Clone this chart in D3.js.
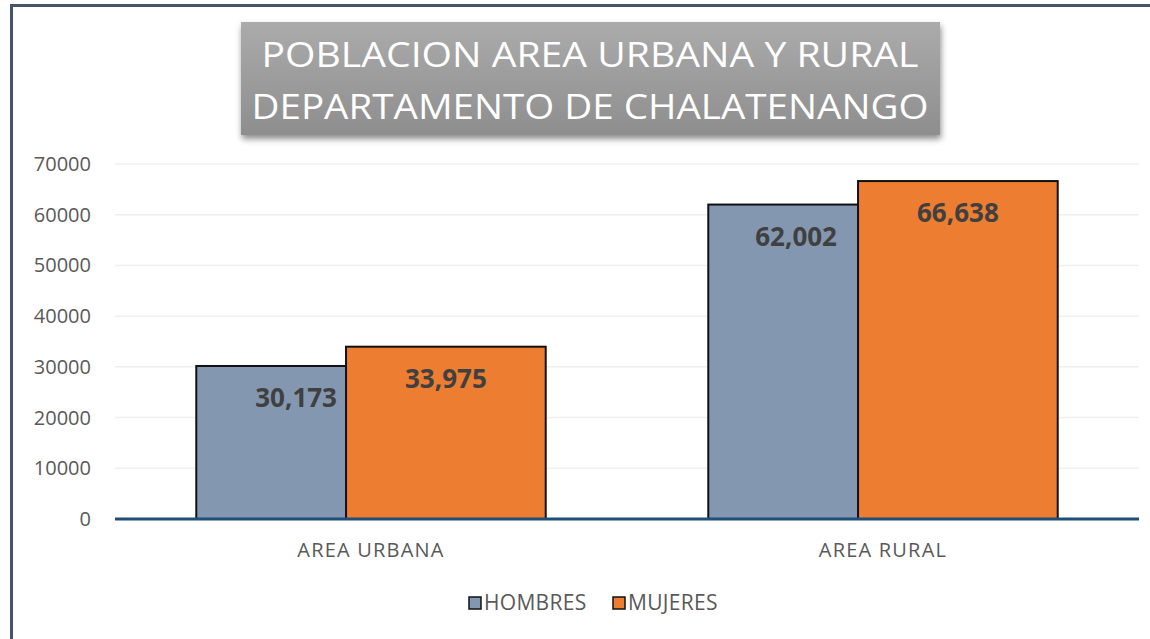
<!DOCTYPE html>
<html>
<head>
<meta charset="utf-8">
<script src="https://cdn.jsdelivr.net/npm/d3@7"></script>
<style>
  body { margin: 0; background: #fff; }
  svg { display: block; font-family: "Open Sans", "Noto Sans", sans-serif; }
</style>
</head>
<body>
<div id="chart"></div>
<script>
const categories = ['AREA URBANA', 'AREA RURAL'];
const series = ['HOMBRES', 'MUJERES'];
const hombres = [30173, 62002];
const mujeres = [33975, 66638];
const yTicks = [0, 10000, 20000, 30000, 40000, 50000, 60000, 70000];
const titleLines = ['POBLACION AREA URBANA Y RURAL', 'DEPARTAMENTO DE CHALATENANGO'];

const colors = { HOMBRES: '#8497B0', MUJERES: '#ED7D31' };
const width = 1150, height = 639;
const margin = { top: 164, right: 11, bottom: 120, left: 115 };

const svg = d3.select('#chart').append('svg')
  .attr('width', width)
  .attr('height', height);

const defs = svg.append('defs');
const grad = defs.append('linearGradient').attr('id', 'titleGrad')
  .attr('x1', 0).attr('y1', 0).attr('x2', 0).attr('y2', 1);
grad.append('stop').attr('offset', '0%').attr('stop-color', '#ABABAB');
grad.append('stop').attr('offset', '100%').attr('stop-color', '#8E8E8E');
const shadow = defs.append('filter').attr('id', 'shadow')
  .attr('x', '-5%').attr('y', '-10%').attr('width', '110%').attr('height', '130%');
shadow.append('feDropShadow').attr('dx', 1).attr('dy', 4).attr('stdDeviation', 3)
  .attr('flood-color', '#000').attr('flood-opacity', 0.45);

// frame (left + top)
svg.append('path')
  .attr('d', 'M11.5,639 V5.5 H1150')
  .attr('fill', 'none')
  .attr('stroke', '#44546A')
  .attr('stroke-width', 3);

const contentWidth = width - margin.left - margin.right;
const contentHeight = height - margin.top - margin.bottom;

const x = d3.scaleBand().domain(categories).range([0, contentWidth]);
const y = d3.scaleLinear().domain([0, 70000]).range([contentHeight, 0]);

const g = svg.append('g')
  .attr('transform', 'translate(' + margin.left + ',' + margin.top + ')');

// gridlines
g.append('g').selectAll('line').data(yTicks.slice(1)).enter().append('line')
  .attr('x1', 0).attr('x2', contentWidth)
  .attr('y1', d => y(d)).attr('y2', d => y(d))
  .attr('stroke', '#EFEFEF').attr('stroke-width', 1.5);

// y labels
g.append('g').selectAll('text').data(yTicks).enter().append('text')
  .attr('x', -24).attr('y', d => y(d)).attr('dy', '0.35em')
  .attr('text-anchor', 'end')
  .attr('font-size', 20).attr('fill', '#595959')
  .text(d => d);

// bars: width 39% of band, 25% overlap
const barW = x.bandwidth() * 0.39;
const groupW = barW * 1.75;
const offset = (x.bandwidth() - groupW) / 2;
const data = [];
categories.forEach((c, i) => {
  data.push({ cat: c, s: 'HOMBRES', v: hombres[i], dx: offset });
  data.push({ cat: c, s: 'MUJERES', v: mujeres[i], dx: offset + barW * 0.75 });
});

g.append('g').selectAll('rect').data(data).enter().append('rect')
  .attr('x', d => x(d.cat) + d.dx)
  .attr('y', d => y(d.v))
  .attr('width', barW)
  .attr('height', d => contentHeight - y(d.v))
  .attr('fill', d => colors[d.s])
  .attr('stroke', '#111').attr('stroke-width', 2);

// value labels
g.append('g').selectAll('text').data(data).enter().append('text')
  .attr('x', d => x(d.cat) + d.dx + barW / 2 - (d.s === 'HOMBRES' && d.cat === 'AREA RURAL' ? 12 : 0))
  .attr('y', d => y(d.v) + 32).attr('dy', '0.35em')
  .attr('text-anchor', 'middle')
  .attr('font-size', 26).attr('font-weight', 'bold').attr('fill', '#404040')
  .text(d => d3.format(',')(d.v));

// x axis line
g.append('line')
  .attr('x1', 0).attr('x2', contentWidth)
  .attr('y1', contentHeight).attr('y2', contentHeight)
  .attr('stroke', '#1F4E79').attr('stroke-width', 3);

// x labels
g.append('g').selectAll('text').data(categories).enter().append('text')
  .attr('x', d => x(d) + x.bandwidth() / 2)
  .attr('y', contentHeight + 31).attr('dy', '0.35em')
  .attr('text-anchor', 'middle')
  .attr('font-size', 20).attr('fill', '#595959')
  .attr('letter-spacing', 1.2)
  .text(d => d);

// legend
const legendItems = [{ s: 'HOMBRES', x: 468 }, { s: 'MUJERES', x: 612 }];
const lg = svg.append('g');
legendItems.forEach(it => {
  lg.append('rect').attr('x', it.x + 1).attr('y', 597).attr('width', 12).attr('height', 12)
    .attr('fill', colors[it.s]).attr('stroke', '#111').attr('stroke-width', 1.5);
  lg.append('text').attr('x', it.x + 16).attr('y', 603).attr('dy', '0.35em')
    .attr('font-size', 21).attr('fill', '#595959')
    .attr('letter-spacing', 0.3)
    .text(it.s);
});

// title box
svg.append('rect')
  .attr('x', 241).attr('y', 22).attr('width', 699).attr('height', 113)
  .attr('fill', 'url(#titleGrad)')
  .attr('filter', 'url(#shadow)');
const titleWidths = [657, 677];
svg.append('g').selectAll('text').data(titleLines).enter().append('text')
  .attr('x', 590).attr('y', (d, i) => 67 + i * 52)
  .attr('text-anchor', 'middle')
  .attr('font-size', 35).attr('fill', '#fff')
  .attr('textLength', (d, i) => titleWidths[i])
  .attr('lengthAdjust', 'spacingAndGlyphs')
  .text(d => d);
</script>
</body>
</html>
